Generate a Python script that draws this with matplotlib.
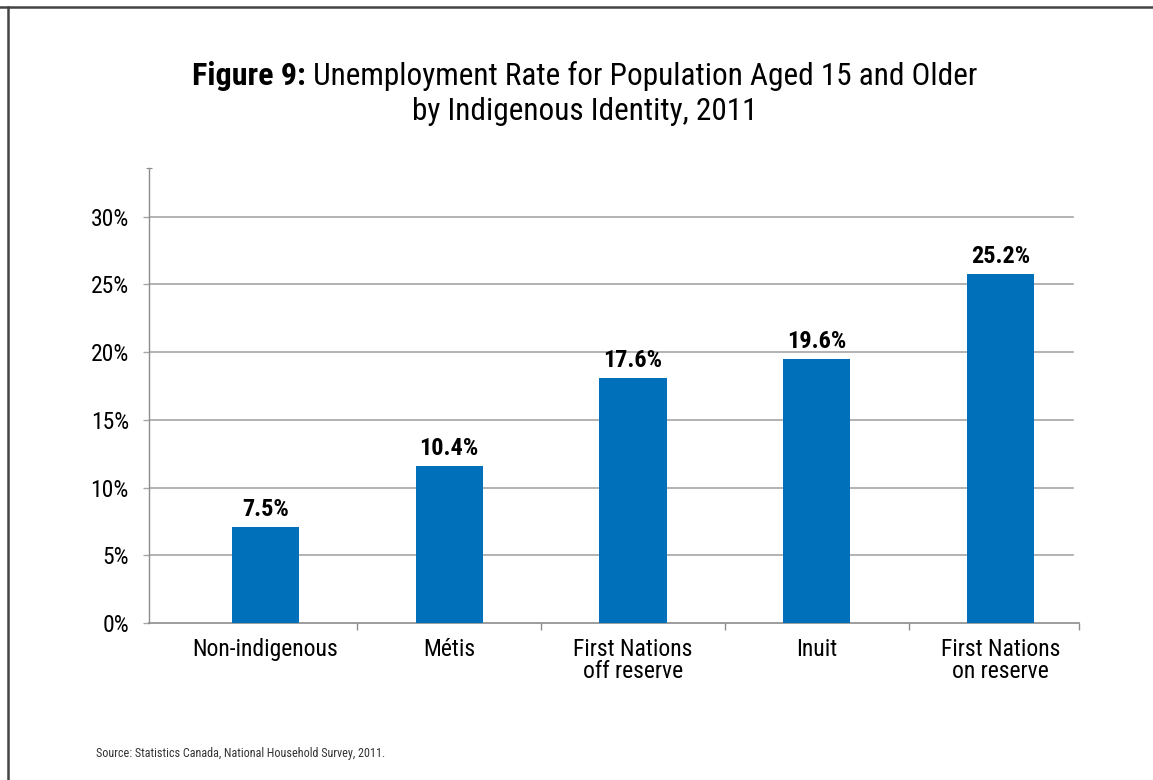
import matplotlib
matplotlib.use('Agg')
import matplotlib.pyplot as plt
from matplotlib.lines import Line2D

# categories and values (bar heights as drawn, labels as printed)
categories = ['Non-indigenous', 'Métis', 'First Nations\noff reserve', 'Inuit', 'First Nations\non reserve']
bar_values = [7.1, 11.6, 18.1, 19.5, 25.8]
value_labels = ['7.5%', '10.4%', '17.6%', '19.6%', '25.2%']
y_ticks = [0, 5, 10, 15, 20, 25, 30]
y_tick_labels = ['0%', '5%', '10%', '15%', '20%', '25%', '30%']

title_bold = 'Figure 9:'
title_rest = ' Unemployment Rate for Population Aged 15 and Older'
title_line2 = 'by Indigenous Identity, 2011'
source = 'Source: Statistics Canada, National Household Survey, 2011.'

FONT = ['Roboto Condensed', 'DejaVu Sans']
plt.rcParams['font.family'] = FONT

W, H = 1153, 780
fig = plt.figure(figsize=(W / 100, H / 100), dpi=100)
fig.patch.set_facecolor('white')

# axes placed in pixel coords
left, right, bottom, top = 149, 1079, 623, 168
ax = fig.add_axes([left / W, (H - bottom) / H, (right - left) / W, (bottom - top) / H])

bar_color = '#0070BA'
grid_color = '#A6A6A6'
axis_color = '#8C8C8C'

x = list(range(len(categories)))
ax.bar(x, bar_values, width=0.365, color=bar_color, zorder=3)

ymax = 33.6
ax.set_ylim(0, ymax)
ax.set_xlim(-0.634, 4.427)

for v in y_ticks[1:]:
    ax.axhline(v, xmin=0, xmax=0.994, color=grid_color, lw=1.2, zorder=1)

ax.set_yticks(y_ticks)
ax.set_yticklabels(y_tick_labels, fontsize=17)
ax.set_yticks([ymax], minor=True)
ax.tick_params(axis='y', which='major', length=4.5, width=1.0, color=grid_color, pad=10)
ax.tick_params(axis='y', which='minor', length=4, width=0.8, color=axis_color, direction='inout')

ax.set_xticks(x)
ax.set_xticklabels(categories, fontsize=17, linespacing=0.95)
ax.set_xticks([0.5, 1.5, 2.5, 3.5, 4.427], minor=True)
ax.tick_params(axis='x', which='major', length=0, pad=11)
ax.tick_params(axis='x', which='minor', length=5, width=1.0, color=axis_color)

for s in ['top', 'right']:
    ax.spines[s].set_visible(False)
ax.spines['left'].set_color(axis_color)
ax.spines['bottom'].set_color(axis_color)
ax.spines['left'].set_linewidth(1.0)
ax.spines['bottom'].set_linewidth(1.2)

for xi, v, lab in zip(x, bar_values, value_labels):
    ax.annotate(lab, (xi, v), xytext=(0, 4), textcoords='offset points',
                ha='center', va='bottom', fontsize=17.5, fontweight='heavy', color='black')

# title: bold lead-in plus regular text, centred as one line
t1 = fig.text(0, 0, title_bold, fontsize=23, fontweight='heavy', va='baseline')
t2 = fig.text(0, 0, title_rest, fontsize=22.5, va='baseline')
fig.canvas.draw()
r = fig.canvas.get_renderer()
w1 = t1.get_window_extent(r).width
w2 = t2.get_window_extent(r).width
cx = 585
x0 = cx - (w1 + w2) / 2
base1 = H - 85
t1.set_position((x0 / W, base1 / H))
t2.set_position(((x0 + w1) / W, base1 / H))
fig.text(cx / W, (H - 120) / H, title_line2, fontsize=22.5, ha='center', va='baseline')

fig.text(96 / W, (H - 753) / H, source, fontsize=8.7, color='#333333', va='center')

# page frame (top and left edges)
fig.add_artist(Line2D([0, 1], [(H - 7) / H] * 2, color='#444444', lw=1.8, transform=fig.transFigure))
fig.add_artist(Line2D([8 / W] * 2, [0, (H - 7) / H], color='#444444', lw=1.8, transform=fig.transFigure))

fig.savefig('out.png', dpi=100, facecolor='white')
